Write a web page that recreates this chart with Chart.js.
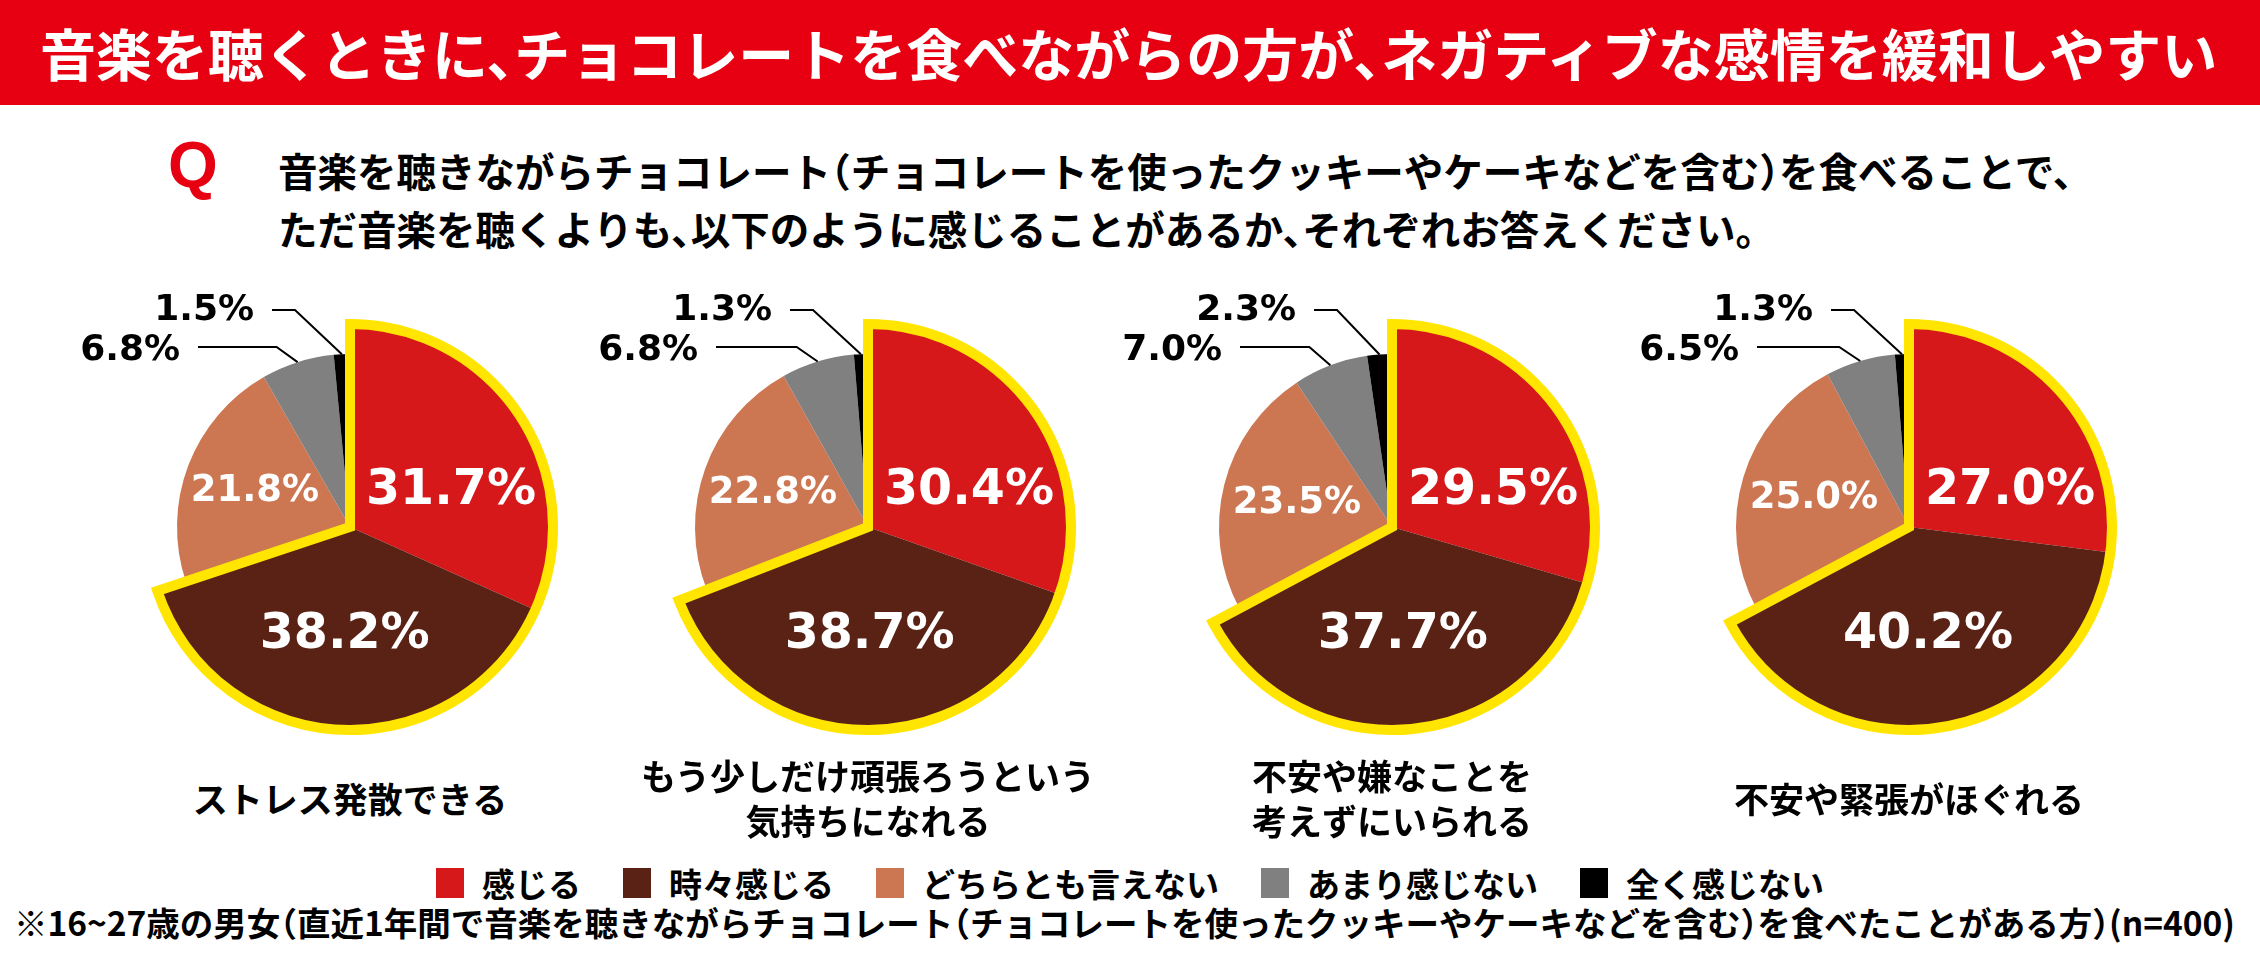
<!DOCTYPE html>
<html lang="ja">
<head>
<meta charset="utf-8">
<title>音楽とチョコレート</title>
<script src="https://cdn.jsdelivr.net/npm/chart.js@4.4.1/dist/chart.umd.min.js"></script>
<style>
    body {
        margin: 0;
        background: #fff;
        font-family: 'Noto Sans CJK JP', 'Noto Sans', sans-serif;
    }
    #page {
        position: relative;
        width: 2260px;
        height: 960px;
        overflow: hidden;
    }
    .title-bar {
        position: absolute;
        left: 0;
        top: 0;
        width: 2260px;
        height: 105px;
        background: #e60012;
        color: #fff;
        font-weight: 700;
        font-size: 56px;
        line-height: 103px;
        padding-left: 40px;
        box-sizing: border-box;
        white-space: nowrap;
        font-feature-settings: "halt";
    }
    .q-mark {
        position: absolute;
        left: 168px;
        top: 130px;
        color: #e60012;
        font-family: 'Liberation Sans', Arial, sans-serif;
        font-weight: 700;
        font-size: 64px;
        line-height: 70px;
    }
    .question {
        position: absolute;
        left: 278px;
        top: 141px;
        font-weight: 700;
        font-size: 39.5px;
        line-height: 58px;
        white-space: nowrap;
        font-feature-settings: "halt";
    }
    .pie {
        position: absolute;
        top: 287px;
    }
    .item-label {
        position: absolute;
        width: 560px;
        text-align: center;
        font-weight: 700;
        font-size: 35px;
        line-height: 45px;
    }
    .legend {
        position: absolute;
        left: 0;
        top: 862px;
        width: 2260px;
        display: flex;
        justify-content: center;
        font-weight: 700;
        font-size: 33px;
        line-height: 42px;
    }
    .legend-item {
        display: flex;
        align-items: center;
        margin: 0 21px;
    }
    .legend-box {
        width: 28px;
        height: 30px;
        margin-right: 18px;
    }
    .note {
        position: absolute;
        left: 14px;
        top: 900px;
        font-weight: 700;
        font-size: 33.5px;
        line-height: 44px;
        white-space: nowrap;
        font-feature-settings: "halt";
    }
</style>
</head>
<body>
<div id="page">
    <div class="title-bar">音楽を聴くときに、チョコレートを食べながらの方が、ネガティブな感情を緩和しやすい</div>
    <div class="q-mark">Q</div>
    <div class="question">音楽を聴きながらチョコレート（チョコレートを使ったクッキーやケーキなどを含む）を食べることで、<br>ただ音楽を聴くよりも、以下のように感じることがあるか、それぞれお答えください。</div>
    <div id="pies"></div>
    <div class="legend" id="legend"></div>
    <div class="note">※16~27歳の男女（直近1年間で音楽を聴きながらチョコレート（チョコレートを使ったクッキーやケーキなどを含む）を食べたことがある方）(n=400)</div>
</div>

<script>
// 回答カテゴリ
const categories = ['感じる', '時々感じる', 'どちらとも言えない', 'あまり感じない', '全く感じない'];

// 設問ごとの項目名（改行位置つき）
const itemLabels = [
    ['ストレス発散できる'],
    ['もう少しだけ頑張ろうという', '気持ちになれる'],
    ['不安や嫌なことを', '考えずにいられる'],
    ['不安や緊張がほぐれる'],
];

// 各項目の回答割合 (%)
const stressValues = [31.7, 38.2, 21.8, 6.8, 1.5];
const effortValues = [30.4, 38.7, 22.8, 6.8, 1.3];
const worryValues = [29.5, 37.7, 23.5, 7.0, 2.3];
const tensionValues = [27.0, 40.2, 25.0, 6.5, 1.3];

const seriesList = [stressValues, effortValues, worryValues, tensionValues];

// 見た目の設定
const sliceColors = ['#d7181b', '#5a2215', '#cd7752', '#808080', '#000000'];
const outlineColor = '#ffe500';
const pieCentersX = [350, 868, 1392, 1909];
const HIGHLIGHT_COUNT = 2; // 感じる + 時々感じる を強調
const SMALL_RATIO = 173 / 203;

const NUM_FONT = '"DejaVu Sans", Verdana, sans-serif';

/**
 * 強調しないスライスの半径を小さくする
 */
const sliceSizePlugin = {
    id: 'sliceSize',
    afterDatasetUpdate(chart, args) {
        args.meta.data.forEach((arc, i) => {
            if (i >= HIGHLIGHT_COUNT) {
                arc.outerRadius = arc.outerRadius * SMALL_RATIO;
            }
        });
    },
};

/**
 * 強調スライスの黄色い枠
 */
const outlinePlugin = {
    id: 'highlightOutline',
    afterDatasetsDraw(chart) {
        const arcs = chart.getDatasetMeta(0).data;
        const first = arcs[0];
        const last = arcs[HIGHLIGHT_COUNT - 1];
        const ctx = chart.ctx;
        ctx.save();
        ctx.beginPath();
        ctx.moveTo(first.x, first.y);
        ctx.arc(first.x, first.y, first.outerRadius, first.startAngle, last.endAngle);
        ctx.closePath();
        ctx.lineWidth = 10;
        ctx.lineJoin = 'miter';
        ctx.strokeStyle = outlineColor;
        ctx.stroke();
        ctx.restore();
    },
};

function drawText(ctx, text, x, centerY, size, color, align) {
    ctx.font = `bold ${size}px ${NUM_FONT}`;
    ctx.fillStyle = color;
    ctx.textAlign = align;
    ctx.textBaseline = 'alphabetic';
    ctx.fillText(text, x, centerY + size * 0.365);
}

/**
 * パーセント表示と引き出し線
 */
const labelPlugin = {
    id: 'sliceLabels',
    afterDatasetsDraw(chart) {
        const ctx = chart.ctx;
        const arcs = chart.getDatasetMeta(0).data;
        const values = chart.data.datasets[0].data;
        const cx = arcs[0].x;
        const cy = arcs[0].y;
        const fmt = (v) => v.toFixed(1) + '%';
        const mid = (arc) => (arc.startAngle + arc.endAngle) / 2;

        ctx.save();
        // 感じる
        drawText(ctx, fmt(values[0]), cx + 101, cy - 41, 49, '#fff', 'center');
        // 時々感じる
        drawText(ctx, fmt(values[1]), cx + 105 * Math.cos(mid(arcs[1])), cy + 103, 49, '#fff', 'center');
        // どちらとも言えない
        drawText(ctx, fmt(values[2]), cx - 95, cy + 112 * Math.sin(mid(arcs[2])), 37, '#fff', 'center');

        // 小さいスライスは外側に引き出し線
        const anchor = (arc) => {
            const a = mid(arc);
            return { x: arc.x + Math.cos(a) * arc.outerRadius, y: arc.y + Math.sin(a) * arc.outerRadius };
        };
        ctx.strokeStyle = '#000';
        ctx.lineWidth = 2;

        const grayPt = anchor(arcs[3]);
        ctx.beginPath();
        ctx.moveTo(cx - 152, cy - 180);
        ctx.lineTo(grayPt.x - 21, cy - 180);
        ctx.lineTo(grayPt.x, grayPt.y);
        ctx.stroke();
        drawText(ctx, fmt(values[3]), cx - 170, cy - 180, 36, '#000', 'right');

        const blackPt = anchor(arcs[4]);
        ctx.beginPath();
        ctx.moveTo(cx - 78, cy - 217);
        ctx.lineTo(cx - 55, cy - 217);
        ctx.lineTo(blackPt.x, blackPt.y);
        ctx.stroke();
        drawText(ctx, fmt(values[4]), cx - 96, cy - 220, 36, '#000', 'right');
        ctx.restore();
    },
};

function createPie(values, index) {
    const canvas = document.createElement('canvas');
    canvas.width = 600;
    canvas.height = 480;
    canvas.className = 'pie';
    canvas.style.left = (pieCentersX[index] - 300) + 'px';
    document.getElementById('pies').appendChild(canvas);

    new Chart(canvas, {
        type: 'pie',
        data: {
            labels: categories,
            datasets: [
                {
                    data: values,
                    backgroundColor: sliceColors,
                    borderWidth: 0,
                },
            ],
        },
        options: {
            responsive: false,
            animation: false,
            events: [],
            layout: { padding: 37 },
            plugins: {
                legend: { display: false },
                tooltip: { enabled: false },
            },
        },
        plugins: [sliceSizePlugin, outlinePlugin, labelPlugin],
    });

    // 項目名
    const label = document.createElement('div');
    label.className = 'item-label';
    label.style.left = (pieCentersX[index] - 280) + 'px';
    const lines = itemLabels[index];
    label.style.top = (797 - lines.length * 45 / 2) + 'px';
    label.innerHTML = lines.join('<br>');
    document.getElementById('pies').appendChild(label);
}

function renderLegend() {
    const legend = document.getElementById('legend');
    legend.innerHTML = categories
        .map(
            (name, i) => `
        <div class="legend-item">
            <div class="legend-box" style="background:${sliceColors[i]}"></div>
            <span>${name}</span>
        </div>`
        )
        .join('');
}

seriesList.forEach((values, i) => createPie(values, i));
renderLegend();
</script>
</body>
</html>
